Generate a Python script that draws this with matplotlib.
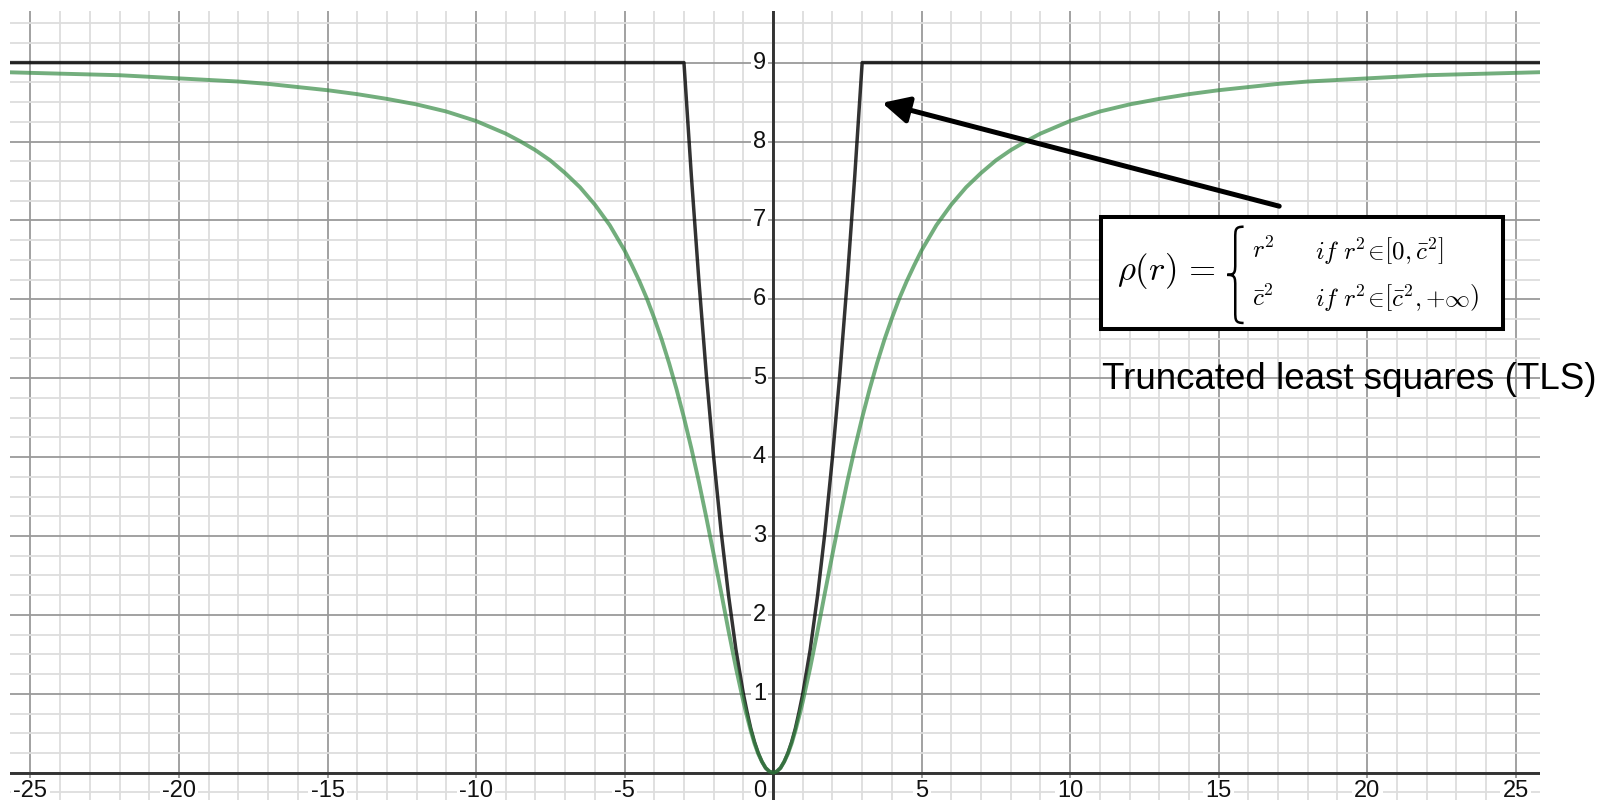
import matplotlib
matplotlib.use("Agg")
import numpy as np
import matplotlib.pyplot as plt
from matplotlib.patches import Rectangle, PathPatch
from matplotlib.path import Path
from matplotlib.ticker import MultipleLocator

plt.rcParams['font.family'] = ['Liberation Sans', 'DejaVu Sans']
plt.rcParams['mathtext.fontset'] = 'cm'

# sampled residuals (r >= 0), mirrored for r < 0
r_tls = [0, 0.125, 0.25, 0.375, 0.5, 0.625, 0.75, 0.875, 1.0, 1.25, 1.5, 1.75, 2.0,
         2.25, 2.5, 2.75, 3.0, 26.0]
rho_tls = [0, 0.016, 0.06, 0.14, 0.25, 0.39, 0.56, 0.77, 1.0, 1.56, 2.25, 3.06, 4.0,
           5.06, 6.25, 7.56, 9.0, 9.0]

r_gm = [0, 0.125, 0.25, 0.375, 0.5, 0.625, 0.75, 0.875, 1.0, 1.25, 1.5, 1.75, 2.0,
        2.25, 2.5, 2.75, 3.0, 3.25, 3.5, 3.75, 4.0, 4.25, 4.5, 4.75, 5.0, 5.5, 6.0,
        6.5, 7.0, 7.5, 8.0, 8.5, 9.0, 9.5, 10, 11, 12, 13, 14, 15, 16, 17, 18, 19,
        20, 22, 24, 26]
rho_gm = [0, 0.016, 0.06, 0.14, 0.24, 0.37, 0.53, 0.71, 0.90, 1.33, 1.80, 2.29, 2.77,
          3.24, 3.69, 4.11, 4.50, 4.86, 5.19, 5.49, 5.76, 6.01, 6.23, 6.43, 6.62, 6.94, 7.20,
          7.42, 7.60, 7.76, 7.89, 8.00, 8.10, 8.18, 8.26, 8.38, 8.47, 8.54, 8.60, 8.65, 8.69, 8.73, 8.76, 8.78,
          8.80, 8.84, 8.86, 8.88]

x_ticks = [-25, -20, -15, -10, -5, 5, 10, 15, 20, 25]
y_ticks = [1, 2, 3, 4, 5, 6, 7, 8, 9]


def mirror(r, v):
    r = np.asarray(r, dtype=float)
    v = np.asarray(v, dtype=float)
    return np.concatenate([-r[::-1], r[1:]]), np.concatenate([v[::-1], v[1:]])


def brace(ax, x_tip, x_stem, x_end, y_top, y_bot, **kw):
    # left curly brace made of cubic curves
    ym = (y_top + y_bot) / 2
    h = y_top - y_bot
    verts = [(x_end, y_top), (x_stem, y_top), (x_stem, y_top - 0.03 * h), (x_stem, y_top - 0.12 * h),
             (x_stem, ym + 0.12 * h),
             (x_stem, ym + 0.03 * h), (x_stem, ym), (x_tip, ym),
             (x_stem, ym), (x_stem, ym - 0.03 * h), (x_stem, ym - 0.12 * h),
             (x_stem, y_bot + 0.12 * h),
             (x_stem, y_bot + 0.03 * h), (x_stem, y_bot), (x_end, y_bot)]
    codes = [Path.MOVETO] + [Path.CURVE4] * 3 + [Path.LINETO] + [Path.CURVE4] * 6 + \
            [Path.LINETO] + [Path.CURVE4] * 3
    ax.add_patch(PathPatch(Path(verts, codes), fill=False, **kw))


fig = plt.figure(figsize=(16.08, 8.0), dpi=100)
ax = fig.add_axes([10 / 1608, 0, 1530 / 1608, 789 / 800])
ax.set_xlim(-25.69, 25.82)
ax.set_ylim(-0.346, 9.654)

# grid
ax.xaxis.set_major_locator(MultipleLocator(5))
ax.xaxis.set_minor_locator(MultipleLocator(1))
ax.yaxis.set_major_locator(MultipleLocator(1))
ax.yaxis.set_minor_locator(MultipleLocator(0.25))
ax.grid(which='minor', color='#dddddd', lw=1.3, zorder=0)
ax.grid(which='major', color='#9a9a9a', lw=1.3, zorder=0)
ax.tick_params(which='both', length=0, labelbottom=False, labelleft=False)
for s in ax.spines.values():
    s.set_visible(False)
ax.set_axisbelow(True)
ax.axhline(0, color='#333333', lw=2.1, zorder=1)
ax.axvline(0, color='#333333', lw=2.1, zorder=1)

# tick labels with white background
bg = dict(boxstyle='square,pad=0.1', fc='white', ec='none')
for t in x_ticks:
    ax.annotate(str(t), xy=(t, 0), xytext=(0, -13.5), textcoords='offset points',
                ha='center', va='center', fontsize=17, color='#111111', bbox=bg, zorder=2)
for t in y_ticks:
    ax.annotate(str(t), xy=(0, t), xytext=(-5, 0), textcoords='offset points',
                ha='right', va='center', fontsize=17, color='#111111', bbox=bg, zorder=2)
ax.annotate('0', xy=(0, 0), xytext=(-5, -13.5), textcoords='offset points',
            ha='right', va='center', fontsize=17, color='#111111', bbox=bg, zorder=2)

# curves
x, y = mirror(r_tls, rho_tls)
ax.plot(x, y, color='black', alpha=0.8, lw=2.5, zorder=3, solid_joinstyle='round')
x, y = mirror(r_gm, rho_gm)
ax.plot(x, y, color='#388c46', alpha=0.7, lw=2.8, zorder=4, solid_joinstyle='round')

# annotation box
ax.annotate('', xy=(3.67, 8.49), xytext=(17.04, 7.18),
            arrowprops=dict(arrowstyle='-|>,head_length=0.9,head_width=0.45', lw=3.6,
                            color='black', shrinkA=0, shrinkB=0, mutation_scale=18), zorder=6)
ax.add_patch(Rectangle((11.04, 5.62), 13.54, 1.42, fc='white', ec='black', lw=2.9, zorder=7))
ax.text(11.58, 6.36, r'$\rho(r)\,=$', fontsize=25, ha='left', va='center', zorder=8)
brace(ax, 15.29, 15.56, 15.84, 6.92, 5.70, color='black', lw=1.8, zorder=8)
ax.text(16.13, 6.62, r'$r^2$', fontsize=18, ha='left', va='center', zorder=8)
ax.text(16.13, 6.02, r'$\bar{c}^2$', fontsize=18, ha='left', va='center', zorder=8)
ax.text(18.25, 6.62, r'$\mathit{if}\ r^2\!\in\!\left[0,\bar{c}^2\right]$',
        fontsize=18, ha='left', va='center', zorder=8)
ax.text(18.25, 6.02, r'$\mathit{if}\ r^2\!\in\!\left[\bar{c}^2,{+}\infty\right)$',
        fontsize=18, ha='left', va='center', zorder=8)
ax.text(11.08, 4.98, 'Truncated least squares (TLS)', fontsize=26.5, ha='left', va='center',
        color='black', zorder=8, clip_on=False)

fig.savefig('out.png', dpi=100, facecolor='white')
